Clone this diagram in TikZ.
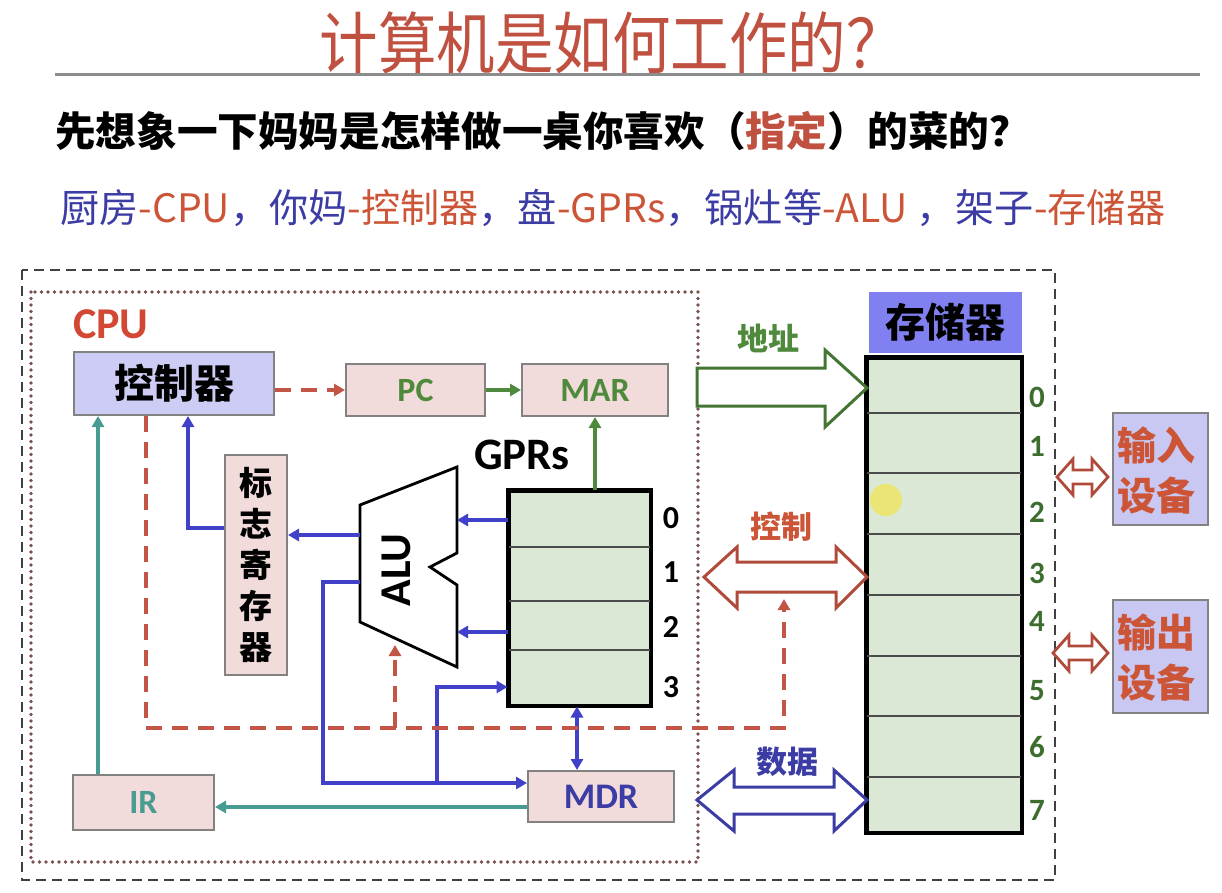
\documentclass[tikz,border=0pt]{standalone}
\usepackage{fontspec}
\setmainfont{Noto Sans CJK SC}
\newfontfamily\calf{Carlito}
\usetikzlibrary{arrows.meta,calc}
\definecolor{titlered}{RGB}{192,80,64}
\definecolor{txtblue}{RGB}{60,60,165}
\definecolor{txtred}{RGB}{205,85,55}
\definecolor{cpured}{RGB}{210,72,52}
\definecolor{pinkfill}{RGB}{242,220,219}
\definecolor{boxgray}{RGB}{130,130,130}
\definecolor{lavender}{RGB}{204,204,245}
\definecolor{memhead}{RGB}{128,128,240}
\definecolor{devfill}{RGB}{200,200,242}
\definecolor{regfill}{RGB}{220,232,214}
\definecolor{grn}{RGB}{79,138,60}
\definecolor{memnum}{RGB}{60,110,45}
\definecolor{arrblue}{RGB}{64,64,200}
\definecolor{arrteal}{RGB}{72,155,145}
\definecolor{dashred}{RGB}{195,85,70}
\definecolor{dotred}{RGB}{120,80,80}
\definecolor{devred}{RGB}{176,74,58}
\begin{document}
\begin{tikzpicture}[x=1pt,y=-1pt,
  box/.style={draw=boxgray,line width=2pt,fill=pinkfill,inner sep=0pt},
  regbox/.style={draw=black,line width=3pt,fill=regfill,inner sep=0pt},
  rowline/.style={draw=black!70,line width=1.6pt},
  tipa/.style={-{Triangle[length=11pt,width=12pt]}},
  bluearr/.style={draw=arrblue,line width=3.6pt},
  tealarr/.style={draw=arrteal,line width=3.4pt},
  greenarr/.style={draw=grn,line width=3.4pt},
  reddash/.style={draw=dashred,line width=4.5pt,dash pattern=on 16pt off 10pt},
  hollow/.style={line width=3pt,fill=white,line join=miter},
  devarrow/.style={draw=devred,line width=2.8pt,fill=white},
  lbl/.style={inner sep=0pt}
]
\useasboundingbox (0,0) rectangle (1222,893);
\fill[white] (0,0) rectangle (1222,893);

% ---------- headings ----------
\node[lbl,text=titlered] (title) at (612,43)
  {\scalebox{1}[1.15]{\resizebox{585pt}{!}{\fontsize{58}{58}\selectfont 计算机是如何工作的？}}};
\draw[black!45,line width=3pt] (55,75) -- (1200,75);
\node[lbl,anchor=west] (question) at (55,131)
  {\resizebox{975pt}{!}{\fontsize{40}{40}\selectfont\bfseries 先想象一下妈妈是怎样做一桌你喜欢（{\color{titlered}指定}）的菜的？}};
\node[lbl,anchor=west] (analogy) at (60,208)
  {\resizebox{1105pt}{!}{\fontsize{36}{36}\selectfont
   {\color{txtblue}厨房}{\color{txtred}-CPU}{\color{txtblue}，你妈}{\color{txtred}-控制器}{\color{txtblue}，盘}{\color{txtred}-GPRs}{\color{txtblue}，锅灶等}{\color{txtred}-ALU}\ {\color{txtblue}，架子}{\color{txtred}-存储器}}};

% ---------- frames ----------
\draw[black!75,line width=2.2pt,dash pattern=on 10pt off 6pt] (22,270) rectangle (1055,880);
\draw[dotred,line width=3.6pt,line cap=round,dash pattern=on 0pt off 6.5pt] (31,292) rectangle (698,862);
\node[lbl,text=cpured,font=\calf\bfseries\fontsize{44}{44}\selectfont,anchor=west] (cpu) at (73,324) {CPU};

% ---------- CPU boxes ----------
\node[box,fill=lavender,minimum width=200pt,minimum height=63pt,font=\bfseries\fontsize{40}{40}\selectfont] (ctrl) at (174,383.5) {控制器};
\node[box,minimum width=139pt,minimum height=52pt,text=grn,font=\calf\bfseries\fontsize{34}{34}\selectfont] (pc) at (415.5,390) {PC};
\node[box,minimum width=146pt,minimum height=52pt,text=grn,font=\calf\bfseries\fontsize{34}{34}\selectfont] (mar) at (595,390) {MAR};
\node[box,minimum width=62pt,minimum height=220pt,align=center,font=\bfseries\fontsize{33}{41}\selectfont] (flag) at (256,565) {标\\志\\寄\\存\\器};
\node[box,minimum width=141pt,minimum height=55pt,text=arrteal,font=\calf\bfseries\fontsize{34}{34}\selectfont] (ir) at (143.5,802.5) {IR};
\node[box,minimum width=146pt,minimum height=51pt,text=txtblue,font=\calf\bfseries\fontsize{36}{36}\selectfont] (mdr) at (601,796.5) {MDR};

% ---------- GPRs ----------
\node[lbl,font=\calf\bfseries\fontsize{45}{45}\selectfont] (gprlbl) at (522,455) {GPRs};
\node[regbox,minimum width=141pt,minimum height=214pt] (gprs) at (579.5,598) {};
\draw[rowline] (gprs.west |- 0,547) -- (gprs.east |- 0,547);
\draw[rowline] (gprs.west |- 0,601) -- (gprs.east |- 0,601);
\draw[rowline] (gprs.west |- 0,650) -- (gprs.east |- 0,650);
\draw[line width=3pt] (gprs.north west) rectangle (gprs.south east);
\foreach \n/\yy in {0/518,1/572,2/627,3/687}
  \node[lbl,font=\calf\bfseries\fontsize{32}{32}\selectfont] (gn\n) at (671,\yy) {\n};

% ---------- ALU ----------
\coordinate (aluTR) at (457,467);
\coordinate (aluTL) at (360,505);
\coordinate (aluBL) at (360,622);
\coordinate (aluBR) at (457,667);
\draw[line width=2.8pt,fill=white,line join=miter] (aluTR) -- (aluTL) -- (aluBL) -- (aluBR) -- (457,585) -- (430,567) -- (457,553) -- cycle;
\node[lbl,rotate=90,font=\calf\bfseries\fontsize{44}{44}\selectfont] (alu) at (396,570) {ALU};

% ---------- memory ----------
\node[draw=memhead,fill=memhead,minimum width=152pt,minimum height=60pt,inner sep=0pt,font=\bfseries\fontsize{40}{40}\selectfont] (memh) at (945,322) {存储器};
\node[regbox,minimum width=154pt,minimum height=474pt] (mem) at (944,595) {};
\foreach \yy in {413,473,534,595,656,716,777}
  \draw[rowline] (mem.west |- 0,\yy) -- (mem.east |- 0,\yy);
\draw[line width=3pt] (mem.north west) rectangle (mem.south east);
\foreach \n/\yy in {0/397,1/446,2/512,3/573,4/621,5/691,6/747,7/810}
  \node[lbl,text=memnum,font=\calf\bfseries\fontsize{31}{31}\selectfont] (mn\n) at (1037,\yy) {\n};
\fill[yellow!85!orange,opacity=0.45] (886,500) circle (16pt);

% ---------- devices ----------
\node[draw=boxgray,line width=2pt,fill=devfill,minimum width=95pt,minimum height=112pt,inner sep=0pt] (indev) at (1160.5,469) {};
\node[lbl,text=txtred,font=\bfseries\fontsize{39}{50}\selectfont,align=center] (intxt) at (1156,470) {输入\\设备};
\node[draw=boxgray,line width=2pt,fill=devfill,minimum width=95pt,minimum height=113pt,inner sep=0pt] (outdev) at (1160.5,656.5) {};
\node[lbl,text=txtred,font=\bfseries\fontsize{39}{50}\selectfont,align=center] (outtxt) at (1156,657) {输出\\设备};
% small double arrows
\draw[devarrow] (1057,477) -- (1073,459) -- (1073,470) -- (1092,470) -- (1092,459) -- (1108,477) -- (1092,495) -- (1092,484) -- (1073,484) -- (1073,495) -- cycle;
\draw[devarrow] (1053,653) -- (1069,635) -- (1069,646) -- (1092,646) -- (1092,635) -- (1108,653) -- (1092,671) -- (1092,660) -- (1069,660) -- (1069,671) -- cycle;

% ---------- bus arrows ----------
\draw[hollow,draw=grn!85!black] (697,368) -- (825,368) -- (825,350) -- (867,388) -- (825,427) -- (825,406) -- (697,406) -- cycle;
\node[lbl,text=grn,font=\bfseries\fontsize{31}{31}\selectfont] (addrlbl) at (768,338) {地址};
\draw[hollow,draw=devred] (704,577) -- (737,547) -- (737,562) -- (836,562) -- (836,547) -- (867,577) -- (836,608) -- (836,592) -- (737,592) -- (737,608) -- cycle;
\node[lbl,text=txtred,font=\bfseries\fontsize{31}{31}\selectfont] (ctllbl) at (781,527) {控制};
\draw[hollow,draw=txtblue] (697,800) -- (734,770) -- (734,787) -- (834,787) -- (834,770) -- (867,800) -- (834,831) -- (834,814) -- (734,814) -- (734,831) -- cycle;
\node[lbl,text=txtblue,font=\bfseries\fontsize{31}{31}\selectfont] (datalbl) at (787,762) {数据};

% ---------- connectors ----------
\draw[reddash,tipa] (ctrl.east |- pc.west) -- (pc.west);
\draw[greenarr,tipa] (pc.east) -- (mar.west);
\draw[greenarr,tipa] (mar.south |- gprs.north) -- (mar.south);
\draw[tealarr,tipa] ([xshift=-45.5pt]ir.north) -- ([xshift=-45.5pt]ir.north |- ctrl.south);
\draw[tealarr,tipa] (mdr.west |- 0,807) -- (ir.east |- 0,807);
\draw[bluearr,tipa] (flag.west |- 0,528) -- (188,528) -- (188,0 |- ctrl.south);
\draw[bluearr,tipa] (aluTL |- 0,535) -- (flag.east |- 0,535);
\draw[bluearr,tipa] (gprs.west |- 0,520) -- (aluTR |- 0,520);
\draw[bluearr,tipa] (gprs.west |- 0,632) -- (aluTR |- 0,632);
\draw[bluearr,tipa] (aluBL |- 0,582) -- (323,582) -- (323,783) -- (mdr.west |- 0,783);
\draw[bluearr,tipa] (437,783) -- (437,687) -- (gprs.west |- 0,687);
\draw[bluearr,{Triangle[length=11pt,width=12pt]}-{Triangle[length=11pt,width=12pt]}] (577,0 |- gprs.south) -- (577,0 |- mdr.north);
\draw[reddash,tipa] (146,0 |- ctrl.south) -- (146,728) -- (784,728) -- (784,599);
\draw[reddash,tipa] (395,728) -- (395,645);
\end{tikzpicture}
\end{document}
